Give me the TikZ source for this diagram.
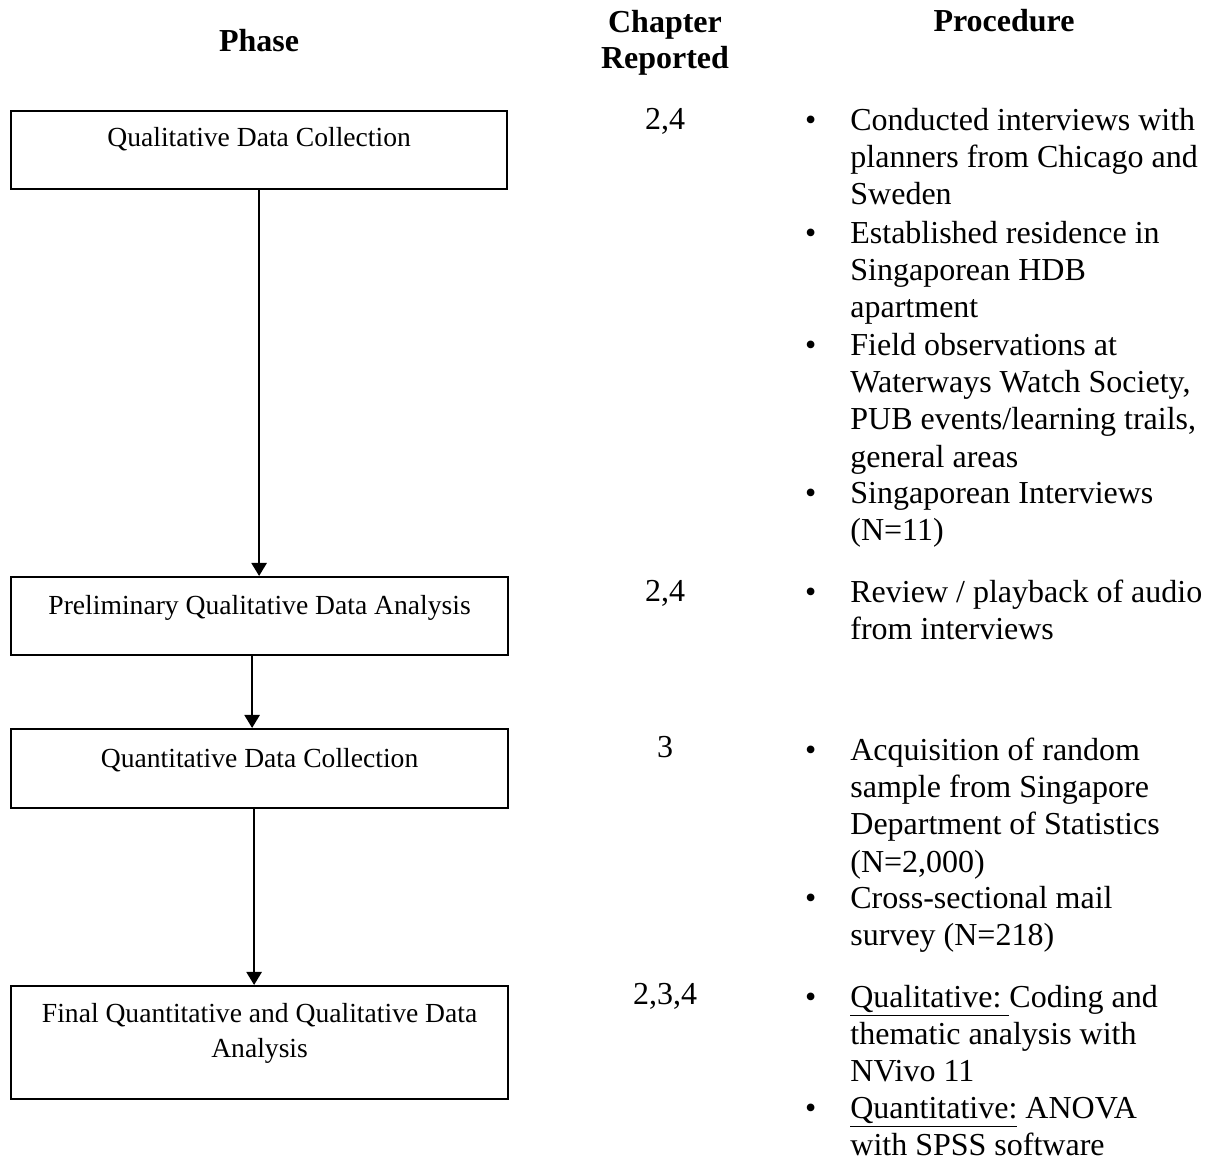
\documentclass[tikz,border=0pt]{standalone}
\usepackage{fontspec}
\setmainfont{Liberation Serif}
\usetikzlibrary{arrows.meta}

% phase box contents: fixed height, text set near the top
\newcommand\phasetext[3]{\parbox[c][#1][t]{246pt}{\centering\vspace*{#2}#3\par}}
% hanging bullet for the procedure items
\newcommand\bul{\makebox[0pt][r]{\textbullet\hspace{17pt}}\strut}

\begin{document}
\begin{tikzpicture}[x=0.5pt,y=-0.5pt,
  phase/.style={draw, line width=1.1pt, inner sep=0pt, anchor=north west,
                font=\fontsize{13.8pt}{17.5pt}\selectfont},
  head/.style={font=\fontsize{16pt}{18pt}\selectfont\bfseries, inner sep=0pt, align=center},
  chap/.style={font=\fontsize{16pt}{18.6pt}\selectfont, inner sep=0pt, anchor=base},
  proc/.style={font=\fontsize{16pt}{18.6pt}\selectfont, inner sep=0pt, anchor=north west, align=left},
  flow/.style={line width=1.2pt, -{Triangle[width=7.5pt,length=6.5pt]}}]

\fill[white] (0,0) rectangle (1207,1160);
\useasboundingbox (0,0) rectangle (1207,1160);

% column headings
\node[head, anchor=base] (hphase) at (259,52) {Phase};
\node[head] (hchap) at (665,42.5) {Chapter\\Reported};
\node[head, anchor=base] (hproc) at (1004,32) {Procedure};

% phases
\node[phase, minimum width=248pt] (b1) at (10,110)
  {\phasetext{39pt}{8.1pt}{Qualitative Data Collection}};
\node[phase, minimum width=248.5pt] (b2) at (10,576)
  {\phasetext{39pt}{9.1pt}{Preliminary Qualitative Data Analysis}};
\node[phase, minimum width=248.5pt] (b3) at (10,728)
  {\phasetext{39.5pt}{9.6pt}{Quantitative Data Collection}};
\node[phase, minimum width=248.5pt] (b4) at (10,985)
  {\phasetext{56.5pt}{8.6pt}{Final Quantitative and Qualitative Data\\Analysis}};

% vertical flow arrows between the phases
\draw[flow] (b1.south) -- (b1.south |- b2.north);
\draw[flow] ([xshift=-3.75pt]b2.south) coordinate (a2) -- (a2 |- b3.north);
\draw[flow] ([xshift=-2.75pt]b3.south) coordinate (a3) -- (a3 |- b4.north);

% chapters
\node[chap] (c1) at (665,130) {2,4};
\node[chap] (c2) at (665,602) {2,4};
\node[chap] (c3) at (665,758) {3};
\node[chap] (c4) at (665,1005) {2,3,4};

% procedures
\node[proc] (p1a) at (850,104) {\bul Conducted interviews with\\planners from Chicago and\\Sweden};
\node[proc] (p1b) at (850,217) {\bul Established residence in\\Singaporean HDB\\apartment};
\node[proc] (p1c) at (850,329) {\bul Field observations at\\Waterways Watch Society,\\PUB events/learning trails,\\general areas};
\node[proc] (p1d) at (850,477) {\bul Singaporean Interviews\\(N=11)};
\node[proc] (p2a) at (850,576) {\bul Review / playback of audio\\from interviews};
\node[proc] (p3a) at (850,734) {\bul Acquisition of random\\sample from Singapore\\Department of Statistics\\(N=2,000)};
\node[proc] (p3b) at (850,882) {\bul Cross-sectional mail\\survey (N=218)};
\node[proc] (p4a) at (850,981) {\bul \underline{Qualitative:\ }Coding and\\thematic analysis with\\NVivo 11};
\node[proc] (p4b) at (850,1092) {\bul \underline{Quantitative:} ANOVA\\with SPSS software};
\end{tikzpicture}
\end{document}
